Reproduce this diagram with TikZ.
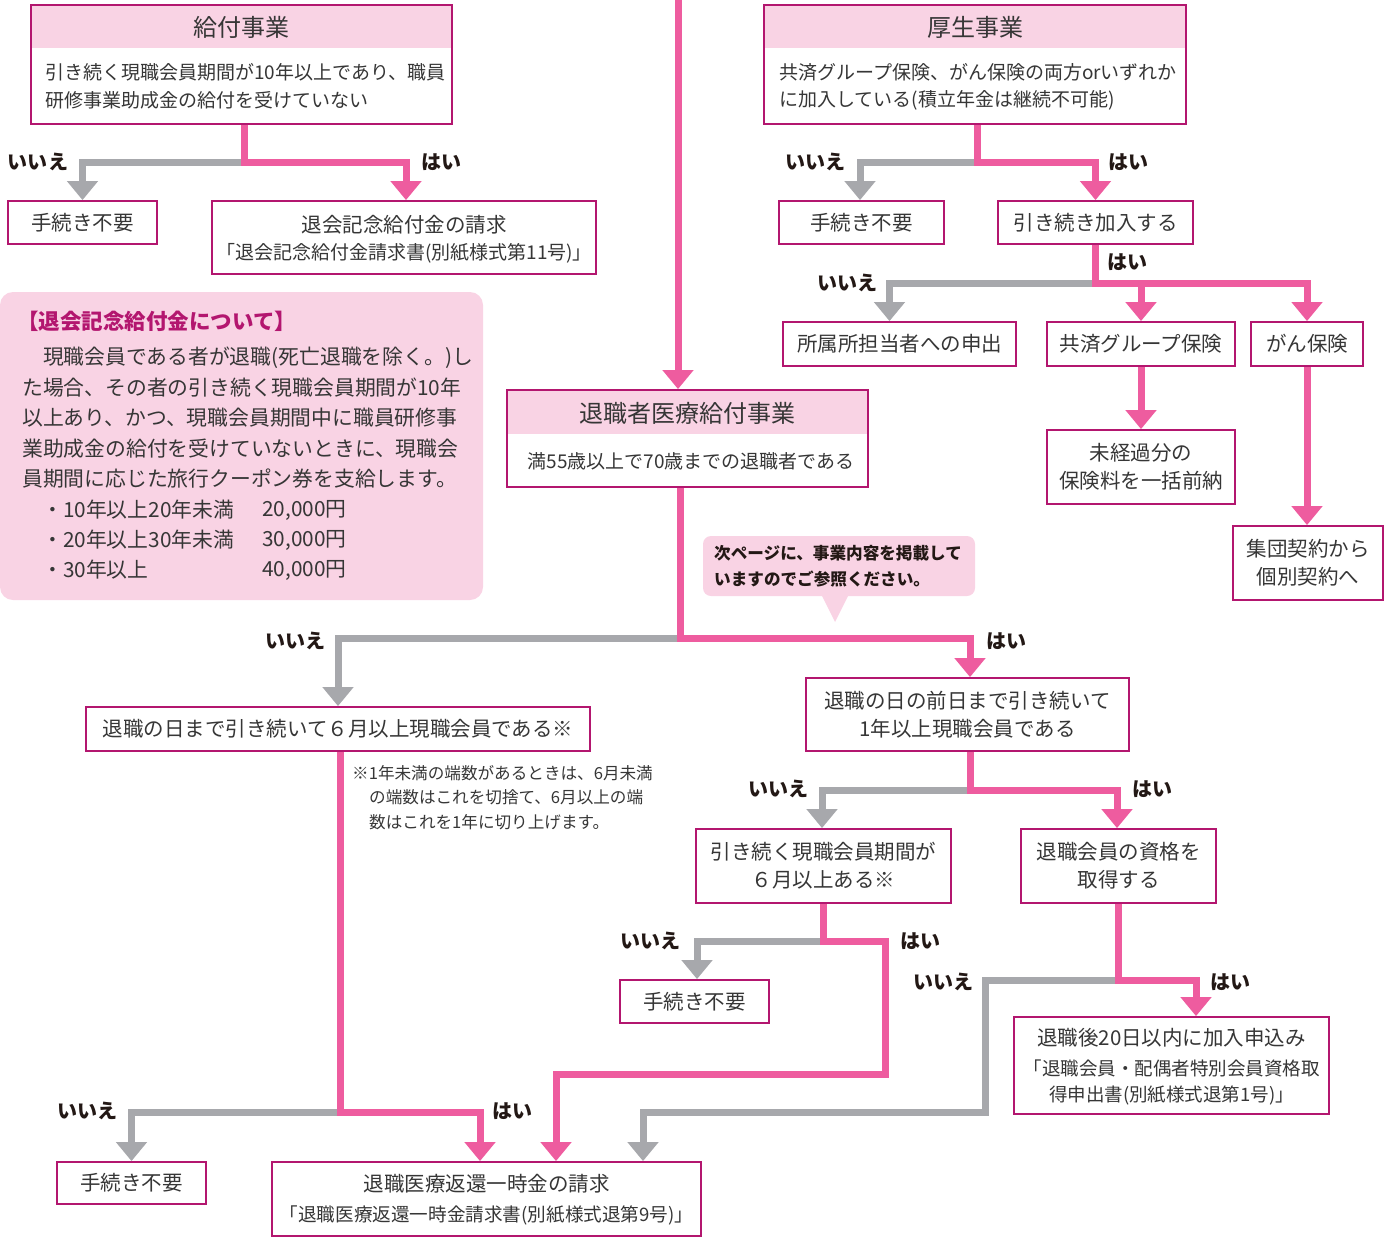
\documentclass[tikz,border=0pt]{standalone}
\usepackage{fontspec}
\setmainfont{Noto Sans CJK JP}
\usetikzlibrary{arrows.meta}
\definecolor{bd}{HTML}{B3166F}
\definecolor{pinkc}{HTML}{EE5C9F}
\definecolor{grayc}{HTML}{A7A8AC}
\definecolor{hdr}{HTML}{F9D3E4}
\definecolor{tx}{HTML}{363636}
\definecolor{lb}{HTML}{231815}
\newcommand\jhead{\fontsize{24}{28}\selectfont}
\newcommand\jbox{\fontsize{20.5}{28}\selectfont}
\newcommand\jsmall{\fontsize{19}{28}\selectfont}
\newcommand\jlab{\fontsize{20}{22}\selectfont\bfseries}
\newcommand\jnote{\fontsize{16.6}{24}\selectfont}
\newcommand\jinfo{\fontsize{20.8}{30}\selectfont}
\newcommand\jcall{\fontsize{16.6}{26}\selectfont\bfseries}
\begin{document}
\begin{tikzpicture}[x=1pt,y=-1pt,
  box/.style={draw=bd, line width=1.8pt, fill=white, inner sep=0pt, text=tx, font=\jbox, align=center},
  hbox/.style={box, path picture={\fill[hdr] (path picture bounding box.north west) rectangle ([yshift=-#1]path picture bounding box.north east);}},
  txt/.style={inner sep=0pt, text=tx},
  pk/.style={draw=pinkc, line width=7pt},
  gy/.style={draw=grayc, line width=7pt},
  pka/.style={pk, -{Triangle[width=30pt,length=19pt]}},
  gya/.style={gy, -{Triangle[width=30pt,length=19pt]}},
  lab/.style={inner sep=0pt, text=lb, font=\jlab},
]
\useasboundingbox (0,0) rectangle (1391,1237);

% ---------- info box ----------
\node[fill=hdr, rounded corners=13pt, minimum width=483, minimum height=308, inner sep=0pt] (info) at (241.5,446) {};
\node[inner sep=0pt, anchor=west, text=bd, font=\fontsize{21.5}{24}\selectfont\bfseries] (infot) at (17,321) {【退会記念給付金について】};
\node[txt, anchor=west, font=\jinfo] (i1) at (22,358) {　現職会員である者が退職(死亡退職を除く。)し};
\node[txt, anchor=west, font=\jinfo] (i2) at (22,388) {た場合、その者の引き続く現職会員期間が10年};
\node[txt, anchor=west, font=\jinfo] (i3) at (22,418) {以上あり、かつ、現職会員期間中に職員研修事};
\node[txt, anchor=west, font=\jinfo] (i4) at (22,449) {業助成金の給付を受けていないときに、現職会};
\node[txt, anchor=west, font=\jinfo] (i5) at (22,479) {員期間に応じた旅行クーポン券を支給します。};
\node[txt, anchor=west, font=\jinfo] (i6) at (42,510) {・10年以上20年未満};
\node[txt, anchor=west, font=\jinfo] (i7) at (42,540) {・20年以上30年未満};
\node[txt, anchor=west, font=\jinfo] (i8) at (42,570) {・30年以上};
\node[txt, anchor=west, font=\jinfo] (a6) at (262,510) {20,000円};
\node[txt, anchor=west, font=\jinfo] (a7) at (262,540) {30,000円};
\node[txt, anchor=west, font=\jinfo] (a8) at (262,570) {40,000円};

% ---------- callout ----------
\fill[hdr] (821,594) -- (835,622) -- (849,594) -- cycle;
\node[fill=hdr, rounded corners=8pt, minimum width=272, minimum height=60, inner sep=0pt] (call) at (839,566) {};
\node[txt, anchor=west, font=\jcall, text=lb] (c1) at (714,553) {次ページに、事業内容を掲載して};
\node[txt, anchor=west, font=\jcall, text=lb] (c2) at (714,579) {いますのでご参照ください。};

% ---------- boxes ----------
\node[hbox=43pt, minimum width=421, minimum height=119] (kyufu) at (241.5,64.5) {};
\node[txt, font=\jhead] (kyufuh) at (241.5,27) {給付事業};
\node[txt, anchor=west, font=\jsmall] (kyufu1) at (45,72) {引き続く現職会員期間が10年以上であり、職員};
\node[txt, anchor=west, font=\jsmall] (kyufu2) at (45,100) {研修事業助成金の給付を受けていない};

\node[box, minimum width=149, minimum height=43] (te1) at (82.5,222.5) {手続き不要};
\node[box, minimum width=384, minimum height=73] (taikai) at (404,237.5) {};
\node[txt, font=\jbox] (taikai1) at (404,225) {退会記念給付金の請求};
\node[txt, font=\jsmall] (taikai2) at (404,253) {「退会記念給付金請求書(別紙様式第11号)」};

\node[hbox=43pt, minimum width=422, minimum height=119] (kousei) at (975,64.5) {};
\node[txt, font=\jhead] (kouseih) at (975,27) {厚生事業};
\node[txt, anchor=west, font=\jsmall] (kousei1) at (779,72) {共済グループ保険、がん保険の両方orいずれか};
\node[txt, anchor=west, font=\jsmall] (kousei2) at (779,100) {に加入している(積立年金は継続不可能)};

\node[box, minimum width=165, minimum height=43] (te2) at (861.5,222.5) {手続き不要};
\node[box, minimum width=195, minimum height=43] (hiki) at (1095.5,222.5) {引き続き加入する};
\node[box, minimum width=233, minimum height=44] (shozoku) at (899.5,344) {所属所担当者への申出};
\node[box, minimum width=188, minimum height=44] (kyosai) at (1141,344) {共済グループ保険};
\node[box, minimum width=112, minimum height=44] (gan) at (1307,344) {がん保険};
\node[box, minimum width=188, minimum height=74] (mikei) at (1141,467) {未経過分の\\保険料を一括前納};
\node[box, minimum width=150, minimum height=74] (shudan) at (1308,563) {集団契約から\\個別契約へ};

\node[hbox=44pt, minimum width=361, minimum height=97] (taiiryo) at (687.5,438.5) {};
\node[txt, font=\jhead] (taiiryoh) at (687.5,413) {退職者医療給付事業};
\node[txt, font=\fontsize{19}{24}\selectfont] (taiiryo1) at (691,461) {満55歳以上で70歳までの退職者である};

\node[box, minimum width=504, minimum height=44] (rokug) at (338,729) {退職の日まで引き続いて６月以上現職会員である※};
\node[txt, anchor=west, font=\jnote] (n1) at (352,773) {※1年未満の端数があるときは、6月未満};
\node[txt, anchor=west, font=\jnote] (n2) at (369,797) {の端数はこれを切捨て、6月以上の端};
\node[txt, anchor=west, font=\jnote] (n3) at (369,822) {数はこれを1年に切り上げます。};

\node[box, minimum width=323, minimum height=73] (zenjitsu) at (967.5,714.5) {退職の日の前日まで引き続いて\\1年以上現職会員である};
\node[box, minimum width=255, minimum height=74] (hikitsu) at (823.5,866) {引き続く現職会員期間が\\６月以上ある※};
\node[box, minimum width=195, minimum height=74] (shikaku) at (1118.5,866) {退職会員の資格を\\取得する};
\node[box, minimum width=149, minimum height=43] (te3) at (694.5,1001.5) {手続き不要};

\node[box, minimum width=315, minimum height=97] (kanyu) at (1171.5,1065.5) {};
\node[txt, font=\jbox] (kanyu1) at (1171.5,1038) {退職後20日以内に加入申込み};
\node[txt, font=\fontsize{18.5}{24}\selectfont] (kanyu2) at (1171.5,1068) {「退職会員・配偶者特別会員資格取};
\node[txt, font=\fontsize{18.5}{24}\selectfont] (kanyu3) at (1171.5,1095) {得申出書(別紙様式退第1号)」};

\node[box, minimum width=149, minimum height=42] (te4) at (131.5,1183) {手続き不要};
\node[box, minimum width=429, minimum height=74] (henkan) at (486.5,1199) {};
\node[txt, font=\jbox] (henkan1) at (486.5,1184) {退職医療返還一時金の請求};
\node[txt, font=\fontsize{18.6}{24}\selectfont] (henkan2) at (486.5,1215) {「退職医療返還一時金請求書(別紙様式退第9号)」};

% ---------- junctions ----------
\coordinate (top) at (678,0);
\coordinate (j1) at (244,162);
\coordinate (j2) at (977,162);
\coordinate (j3) at (1095,283);
\coordinate (j4) at (680,638);
\coordinate (j5) at (970,790);
\coordinate (j6) at (340,1112);
\coordinate (j7) at (823,941);
\coordinate (c7) at (885,1074);
\coordinate (j8) at (1118,980);
\coordinate (c8) at (985,1112);

% ---------- connectors ----------
\draw[pka] (top) -- ([xshift=-9.5pt]taiiryo.north);

\draw[gya] (j1) -| (te1.north);
\draw[pka] (kyufu.south -| j1) -- (j1) -| ([xshift=2pt]taikai.north);

\draw[gya] (j2) -| ([xshift=-1.5pt]te2.north);
\draw[pka] (kousei.south -| j2) -- (j2) -| (hiki.north);

\draw[gya] (j3) -| ([xshift=-10pt]shozoku.north);
\draw[pka] (hiki.south -| j3) -- (j3) -| (gan.north);
\draw[pka] (kyosai.north |- j3) -- (kyosai.north);
\draw[pka] (kyosai.south) -- (mikei.north);
\draw[pka] (gan.south) -- (gan.south |- shudan.north);

\draw[gya] (j4) -| (rokug.north);
\draw[pka] (taiiryo.south -| j4) -- (j4) -| ([xshift=2.5pt]zenjitsu.north);

\draw[gya] (j5) -| ([xshift=-1.5pt]hikitsu.north);
\draw[pka] (zenjitsu.south -| j5) -- (j5) -| ([xshift=-1.5pt]shikaku.north);

\draw[gya] (j6) -| (te4.north);
\draw[pka] (rokug.south -| j6) -- (j6) -| ([xshift=-6.5pt]henkan.north);

\draw[gya] (j7) -| ([xshift=2.5pt]te3.north);
\draw[pka] (hikitsu.south -| j7) -- (j7) -| (c7) -| ([xshift=69.5pt]henkan.north);

\draw[gya] (j8) -| (c8) -| ([xshift=156.5pt]henkan.north);
\draw[pka] (shikaku.south -| j8) -- (j8) -| ([xshift=24.5pt]kanyu.north);

% ---------- labels ----------
\node[lab] (l1n) at (38,162) {いいえ};
\node[lab] (l1y) at (441,162) {はい};
\node[lab] (l2n) at (815,162) {いいえ};
\node[lab] (l2y) at (1128,162) {はい};
\node[lab] (l3y) at (1127,262) {はい};
\node[lab] (l3n) at (847,283) {いいえ};
\node[lab] (l4n) at (295,641) {いいえ};
\node[lab] (l4y) at (1006,641) {はい};
\node[lab] (l5n) at (778,789) {いいえ};
\node[lab] (l5y) at (1152,789) {はい};
\node[lab] (l6n) at (87,1111) {いいえ};
\node[lab] (l6y) at (512,1111) {はい};
\node[lab] (l7n) at (650,941) {いいえ};
\node[lab] (l7y) at (920,941) {はい};
\node[lab] (l8n) at (943,982) {いいえ};
\node[lab] (l8y) at (1230,982) {はい};
\end{tikzpicture}
\end{document}
